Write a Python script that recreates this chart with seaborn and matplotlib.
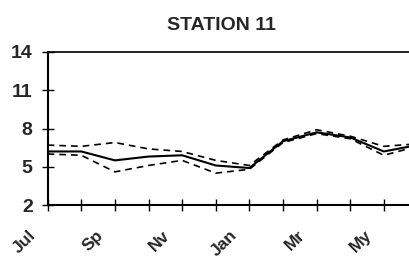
import numpy as np
import pandas as pd
import seaborn as sns
from matplotlib import pyplot as plt
from matplotlib import transforms

months = ['Jul', 'Aug', 'Sep', 'Oct', 'Nov', 'Dec', 'Jan', 'Feb', 'Mar', 'Apr', 'May', 'Jun']
mean_vals = [6.2, 6.2, 5.5, 5.8, 5.9, 5.1, 4.9, 7.0, 7.7, 7.3, 6.2, 6.7]
upper_vals = [6.7, 6.6, 6.9, 6.4, 6.2, 5.5, 5.1, 7.1, 7.9, 7.4, 6.6, 6.8]
lower_vals = [6.0, 5.9, 4.6, 5.1, 5.5, 4.5, 4.8, 6.9, 7.6, 7.2, 5.9, 6.6]
tick_labels = ['Jul', 'Sp', 'Nv', 'Jan', 'Mr', 'My']

df = pd.DataFrame({'x': np.arange(len(months)), 'mean': mean_vals,
                   'upper': upper_vals, 'lower': lower_vals})

sns.set_style('white')
plt.rcParams['font.family'] = ['Liberation Sans', 'DejaVu Sans']

fig = plt.figure(figsize=(4.1, 2.6), dpi=100)
ax = fig.add_axes([0.1163, 0.2115, 0.8837, 0.5885])

sns.lineplot(data=df, x='x', y='mean', color='black', linewidth=1.5, ax=ax)
sns.lineplot(data=df, x='x', y='upper', color='black', linewidth=1.2,
             linestyle=(0, (4, 3)), ax=ax)
sns.lineplot(data=df, x='x', y='lower', color='black', linewidth=1.2,
             linestyle=(0, (4, 3)), ax=ax)

ax.set_xlim(0, 10.78)
ax.set_ylim(2, 14)
ax.set_yticks([2, 5, 8, 11, 14])
ax.set_yticklabels(['2', '5', '8', '11', '14'], fontsize=14, fontweight='bold')
ax.set_xticks(np.arange(11))
ax.set_xticklabels([tick_labels[i // 2] if i % 2 == 0 else '' for i in range(11)],
                   rotation=45, ha='right', va='top',
                   fontsize=12.5, fontweight='bold')
ax.tick_params(axis='both', which='major', bottom=True, left=True,
               direction='inout', length=8.6, width=1, color='black')
ax.tick_params(axis='y', pad=6.5)
ax.tick_params(axis='x', pad=12)
shift = transforms.ScaledTranslation(-9 / 100, 0, fig.dpi_scale_trans)
for lab in ax.get_xticklabels():
    lab.set_transform(lab.get_transform() + shift)
ax.set_xlabel('')
ax.set_ylabel('')
ax.set_title('STATION 11', fontsize=14, fontweight='bold', pad=16, x=0.48)

for s in ['left', 'bottom', 'top']:
    ax.spines[s].set_color('black')
    ax.spines[s].set_linewidth(1.5)
ax.spines['top'].set_linewidth(1.2)
ax.spines['right'].set_visible(False)

fig.savefig('out.png', dpi=100)
